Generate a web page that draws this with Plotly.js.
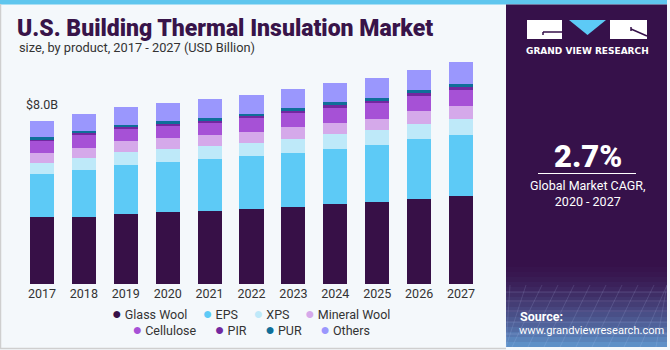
<!DOCTYPE html>
<html>
<head>
<meta charset="utf-8">
<script src="https://cdn.plot.ly/plotly-3.0.1.min.js"></script>
<style>
  html, body { margin: 0; padding: 0; background: #f4f8fb; }
  #chart { width: 670px; height: 350px; }
</style>
</head>
<body>
<div id="chart"></div>
<script>
// ---- Data (USD Billion) ----
const years = ['2017','2018','2019','2020','2021','2022','2023','2024','2025','2026','2027'];
const glassWool   = [3.29, 3.27, 3.44, 3.52, 3.60, 3.68, 3.78, 3.91, 4.01, 4.17, 4.30];
const eps         = [2.10, 2.34, 2.42, 2.47, 2.52, 2.59, 2.67, 2.73, 2.81, 2.93, 3.02];
const xps         = [0.57, 0.59, 0.60, 0.64, 0.64, 0.65, 0.67, 0.70, 0.72, 0.75, 0.77];
const mineralWool = [0.48, 0.49, 0.54, 0.52, 0.54, 0.54, 0.56, 0.57, 0.57, 0.62, 0.64];
const cellulose   = [0.57, 0.62, 0.59, 0.60, 0.62, 0.70, 0.72, 0.75, 0.77, 0.77, 0.80];
const pir         = [0.08, 0.08, 0.11, 0.10, 0.10, 0.08, 0.10, 0.10, 0.12, 0.11, 0.13];
const pur         = [0.10, 0.10, 0.10, 0.13, 0.12, 0.11, 0.12, 0.15, 0.11, 0.16, 0.13];
const others      = [0.82, 0.83, 0.88, 0.88, 0.93, 0.92, 0.93, 0.95, 0.98, 1.00, 1.08];

const seriesNames  = ['Glass Wool','EPS','XPS','Mineral Wool','Cellulose','PIR','PUR','Others'];
const seriesValues = [glassWool, eps, xps, mineralWool, cellulose, pir, pur, others];
const seriesColors = ['#371047','#5dcaf6','#bee9f9','#d5a9ea','#a651d6','#7228a0','#0f6f99','#9a97fd'];

const cagrText = '2.7%';
const cagrLabel = 'Global Market CAGR,<br>2020 - 2027';

// ---- Geometry helpers (layout only) ----
const W = 670, H = 350;
const M = {l: 21, r: 188, t: 59, b: 66};
const PW = W - M.l - M.r, PH = H - M.t - M.b;
const fx = x => (x - M.l) / PW;          // pixel x -> paper x
const fy = y => (H - M.b - y) / PH;      // pixel y -> paper y
const FONT = 'Roboto, Arial, sans-serif';

const traces = seriesNames.map((n, i) => ({
  type: 'bar', name: n, x: years, y: seriesValues[i],
  marker: {color: seriesColors[i], line: {width: 0}},
  showlegend: false, hoverinfo: 'x+y+name'
}));

const total2017 = seriesValues.reduce((s, arr) => s + arr[0], 0);

const shapes = [];
const annotations = [];
const P = (o) => Object.assign({xref: 'paper', yref: 'paper', layer: 'below'}, o);

// top strip
shapes.push(P({type: 'rect', x0: fx(0), x1: fx(667), y0: fy(4.5), y1: fy(0), fillcolor: '#5fc6ee', line: {width: 0}}));
// borders
shapes.push(P({type: 'line', x0: fx(0.5), x1: fx(0.5), y0: fy(348), y1: fy(4), line: {color: '#cfcfcf', width: 1.5}}));
shapes.push(P({type: 'line', x0: fx(0), x1: fx(506), y0: fy(348.5), y1: fy(348.5), line: {color: '#cfcfcf', width: 1.5}}));
// right panel
shapes.push(P({type: 'rect', x0: fx(506), x1: fx(667), y0: fy(347), y1: fy(4.5), fillcolor: '#36114a', line: {width: 0}}));
// gradient bottom of panel
const c0 = [54, 17, 74], c1 = [96, 150, 205];
const gTop = 262, gBot = 347, nb = 17;
for (let i = 0; i < nb; i++) {
  const t = Math.pow((i + 0.5) / nb, 1.6);
  const c = c0.map((v, k) => Math.round(v + (c1[k] - v) * t));
  const y0 = gTop + (gBot - gTop) * i / nb, y1 = gTop + (gBot - gTop) * (i + 1) / nb;
  shapes.push(P({type: 'rect', x0: fx(506), x1: fx(667), y0: fy(y1), y1: fy(y0),
    fillcolor: `rgb(${c[0]},${c[1]},${c[2]})`, line: {width: 0}}));
}
// faint grid in the gradient
[292, 301, 311, 322, 334].forEach(y => shapes.push(P({type: 'line', x0: fx(506), x1: fx(667), y0: fy(y), y1: fy(y),
  line: {color: 'rgba(200,210,255,0.18)', width: 1}})));
for (let k = 0; k < 12; k++) {
  const xb = 500 + k * 16;
  shapes.push(P({type: 'line', x0: fx(Math.max(506, xb - 20)), x1: fx(Math.min(667, xb + 10)), y0: fy(347), y1: fy(285),
    line: {color: 'rgba(200,210,255,0.14)', width: 1}}));
}
// logo
shapes.push(P({type: 'rect', x0: fx(527), x1: fx(562), y0: fy(39), y1: fy(20), fillcolor: '#ffffff', line: {width: 0}}));
shapes.push(P({type: 'rect', x0: fx(610), x1: fx(647), y0: fy(39), y1: fy(20), fillcolor: '#ffffff', line: {width: 0}}));
shapes.push(P({type: 'path', path: `M ${fx(569)} ${fy(20)} L ${fx(606)} ${fy(20)} L ${fx(587.5)} ${fy(35)} Z`,
  fillcolor: '#5dcaf6', line: {width: 0}}));
shapes.push(P({type: 'path', path: `M ${fx(543)} ${fy(32)} L ${fx(562)} ${fy(32)} M ${fx(543)} ${fy(32)} L ${fx(543)} ${fy(35)}`,
  line: {color: '#36114a', width: 1.5}}));
shapes.push(P({type: 'path', path: `M ${fx(631)} ${fy(29)} L ${fx(647)} ${fy(36)} M ${fx(631)} ${fy(27)} L ${fx(631)} ${fy(31)}`,
  line: {color: '#36114a', width: 1.5}}));
// CAGR line
shapes.push(P({type: 'line', x0: fx(538), x1: fx(636), y0: fy(173.5), y1: fy(173.5), line: {color: '#ffffff', width: 1}}));

const A = (o) => Object.assign({xref: 'paper', yref: 'paper', showarrow: false}, o);
annotations.push(A({x: fx(17), y: fy(47.5), xanchor: 'left', yanchor: 'middle',
  text: 'size, by product, 2017 - 2027 (USD Billion)', font: {family: FONT, size: 12.8, color: '#333333'}}));
annotations.push({x: years.indexOf('2017'), y: total2017, xref: 'x', yref: 'y', showarrow: false, yanchor: 'bottom', yshift: 7,
  text: '$' + total2017.toFixed(1) + 'B', font: {family: FONT, size: 12.5, color: '#333333'}});
annotations.push(A({x: fx(587.5), y: fy(51.5), xanchor: 'center', yanchor: 'middle',
  text: 'GRAND VIEW RESEARCH', font: {family: 'DejaVu Sans, sans-serif', size: 9, color: '#ffffff', weight: 700}}));
annotations.push(A({x: fx(587.5), y: fy(156), xanchor: 'center', yanchor: 'middle',
  text: cagrText, font: {family: FONT, size: 31, color: '#ffffff', weight: 900}}));
annotations.push(A({x: fx(587.5), y: fy(193), xanchor: 'center', yanchor: 'middle', align: 'center',
  text: cagrLabel, font: {family: FONT, size: 12.5, color: '#ffffff'}}));
annotations.push(A({x: fx(518), y: fy(316), xanchor: 'left', yanchor: 'middle',
  text: 'Source:', font: {family: FONT, size: 12.5, color: '#ffffff', weight: 700}}));
annotations.push(A({x: fx(517), y: fy(330.5), xanchor: 'left', yanchor: 'middle',
  text: 'www.grandviewresearch.com', font: {family: FONT, size: 11.1, color: '#ffffff'}}));

// legend (two centred rows, built from series names/colours)
const gap1 = '&nbsp;&nbsp;&nbsp;&nbsp;&nbsp;';
const gap2 = '&nbsp;&nbsp;&nbsp;&nbsp;&nbsp;&nbsp;';
const item = i => `<span style="color:${seriesColors[i]};font-size:16px">●</span> ${seriesNames[i]}`;
annotations.push(A({x: fx(251), y: fy(321.5), xanchor: 'center', yanchor: 'middle', align: 'center',
  text: [0,1,2,3].map(item).join(gap1) + '<br>' + [4,5,6,7].map(item).join(gap2),
  font: {family: FONT, size: 12.5, color: '#333333'}}));

const layout = {
  width: W, height: H,
  margin: {l: M.l, r: M.r, t: M.t, b: M.b, pad: 0},
  paper_bgcolor: '#f4f8fb', plot_bgcolor: 'rgba(0,0,0,0)',
  barmode: 'stack', bargap: 0.427,
  showlegend: false,
  title: {text: 'U.S. Building Thermal Insulation Market', x: 17 / W, xanchor: 'left', xref: 'container',
    y: 1 - 27.5 / H, yanchor: 'middle', yref: 'container',
    font: {family: FONT, size: 23, color: '#381449', weight: 900}},
  xaxis: {type: 'category', range: [-0.5, years.length - 0.5], showgrid: false, zeroline: false, showline: false, ticks: '',
    tickfont: {family: FONT, size: 12.5, color: '#333333'}, fixedrange: true},
  yaxis: {range: [0, 11.04], visible: false, showgrid: false, zeroline: false, fixedrange: true},
  shapes: shapes, annotations: annotations,
  font: {family: FONT}
};

Plotly.newPlot('chart', traces, layout, {displayModeBar: false, staticPlot: true});
</script>
</body>
</html>
